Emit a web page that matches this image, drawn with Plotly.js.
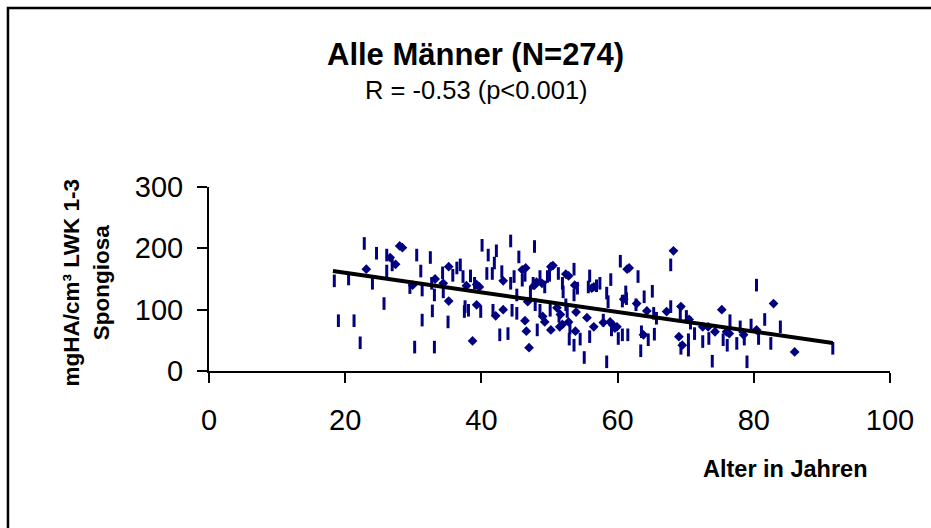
<!DOCTYPE html>
<html>
<head>
<meta charset="utf-8">
<script src="https://cdn.plot.ly/plotly-3.0.1.min.js"></script>
<style>
  html, body { margin: 0; padding: 0; background: #ffffff; }
  #chart { width: 931px; height: 528px; }
</style>
</head>
<body>
<div id="chart"></div>
<script>
// ---- Data ----
// Points drawn as vertical dash markers
const ageBar = [18.4,19.0,20.5,21.3,22.2,22.8,24.0,24.6,25.7,26.1,26.9,26.1,29.5,30.2,30.5,31.1,31.3,31.3,32.5,32.7,32.8,33.1,33.1,34.3,34.4,35.1,35.8,36.4,36.9,37.3,37.6,37.5,38.1,38.4,39.0,39.9,40.1,40.8,41.0,41.6,41.9,42.2,41.7,42.7,
  43.0,43.9,44.3,44.5,44.3,44.8,45.2,45.2,45.5,46.0,46.4,47.2,47.6,47.8,47.9,48.2,48.6,48.6,49.3,49.7,50.0,50.1,51.3,51.4,51.9,52.0,52.4,52.6,52.9,53.0,53.6,53.6,53.6,54.1,54.5,55.1,55.7,55.9,55.9,56.9,57.4,57.9,58.4,58.4,58.6,59.0,59.1,60.1,60.4,60.7,60.7,61.2,61.3,61.5,62.7,63.0,63.4,63.5,63.9,64.5,65.1,65.3,65.4,65.7,
  67.8,67.8,69.2,69.3,70.1,70.7,70.4,70.4,71.3,72.5,73.4,73.9,75.5,76.1,76.5,77.5,78.0,78.6,79.0,79.6,80.4,80.7,81.6,82.5,83.9,91.6];
const bmdBar = [147,82,150,82,46,208,143,192,110,189,173,163,136,39,189,163,132,83,185,143,98,39,124,160,129,80,156,168,173,154,105,97,99,155,143,97,205,159,189,159,176,196,99,59,
  162,61,212,99,143,154,124,94,186,148,156,129,143,203,108,67,154,99,137,154,156,99,159,89,143,129,108,97,52,70,166,124,42,135,52,22,137,155,56,139,143,83,15,127,113,149,67,53,179,114,59,129,118,59,108,154,33,64,121,51,130,94,60,86,
  173,105,91,37,89,78,51,34,61,48,53,16,51,42,82,45,72,52,15,75,140,53,84,45,72,37];
// Points drawn as diamonds
const ageDiamond = [23.1,26.6,27.4,28.0,28.4,29.9,33.2,34.4,35.2,35.2,37.8,38.7,39.3,39.7,39.3,42.1,
  43.2,43.2,46.0,46.5,46.4,46.6,47.0,46.8,47.8,48.1,48.9,49.0,49.3,50.2,50.5,50.2,51.1,51.6,51.9,51.5,52.4,52.8,52.8,53.7,53.9,53.8,55.5,56.2,56.5,56.5,57.9,58.9,59.3,59.6,59.9,61.4,61.7,60.9,62.8,63.8,64.3,67.2,
  68.2,69.3,69.0,69.5,70.5,72.5,73.3,74.3,75.3,76.0,76.4,78.5,80.4,82.9,86.0];
const bmdDiamond = [166,185,174,204,201,140,150,143,170,114,139,49,141,137,108,90,
  147,100,165,168,82,65,38,113,140,145,143,89,80,170,172,67,103,92,76,72,158,155,80,140,96,65,87,135,137,72,79,80,75,70,72,166,168,117,110,59,98,97,
  196,105,56,42,84,72,72,64,100,64,61,59,67,110,31];
// Linear regression line (end points)
const trendAge = [18.2, 91.6];
const trendBmd = [163, 45.7];

// Text
const titleText = "Alle Männer (N=274)";
const subtitleText = "R = -0.53 (p&lt;0.001)";
const xTitle = "Alter in Jahren";
const yTitle1 = "mgHA/cm³ LWK 1-3";
const yTitle2 = "Spongiosa";
const xTicks = [0, 20, 40, 60, 80, 100];
const yTicks = [0, 100, 200, 300];

const FONT = "Liberation Sans, Arial, Helvetica, sans-serif";
const NAVY = "#000080";

const traces = [
  {
    type: "scatter", mode: "markers", x: ageBar, y: bmdBar,
    marker: { symbol: "line-ns", size: 9, color: NAVY, line: { width: 3, color: NAVY } },
    hoverinfo: "x+y", showlegend: false
  },
  {
    type: "scatter", mode: "markers", x: ageDiamond, y: bmdDiamond,
    marker: { symbol: "diamond", size: 7.5, color: NAVY, line: { width: 0 } },
    hoverinfo: "x+y", showlegend: false
  },
  {
    type: "scatter", mode: "lines", x: trendAge, y: trendBmd,
    line: { color: "#000000", width: 4 },
    hoverinfo: "skip", showlegend: false
  }
];

const layout = {
  width: 931, height: 528,
  margin: { l: 209, r: 41, t: 187, b: 157, pad: 0 },
  paper_bgcolor: "#ffffff", plot_bgcolor: "#ffffff",
  font: { family: FONT, color: "#000000" },
  showlegend: false,
  xaxis: {
    range: [0, 100], tickmode: "array", tickvals: xTicks, ticktext: xTicks.map(String),
    showgrid: false, zeroline: false, showline: true, linecolor: "#000", linewidth: 2,
    ticks: "outside", ticklen: 10, tickwidth: 2, tickcolor: "#000",
    tickfont: { family: FONT, size: 29, color: "#000" }, ticklabelstandoff: 12,
    fixedrange: true
  },
  yaxis: {
    range: [0, 300], tickmode: "array", tickvals: yTicks, ticktext: yTicks.map(String),
    showgrid: false, zeroline: false, showline: true, linecolor: "#000", linewidth: 2,
    ticks: "outside", ticklen: 10, tickwidth: 2, tickcolor: "#000",
    tickfont: { family: FONT, size: 29, color: "#000" }, ticklabelstandoff: 8,
    fixedrange: true
  },
  shapes: [
    { type: "rect", xref: "paper", yref: "paper", x0: -0.2952, x1: 2, y0: -2, y1: 1.9728,
      line: { color: "#000", width: 2.5 }, fillcolor: "rgba(0,0,0,0)" }
  ],
  annotations: [
    { xref: "paper", yref: "paper", x: 0.3913, y: 1.7228, xanchor: "center", yanchor: "middle",
      text: "<b>" + titleText + "</b>", showarrow: false, font: { family: FONT, size: 31, color: "#000" } },
    { xref: "paper", yref: "paper", x: 0.3921, y: 1.5272, xanchor: "center", yanchor: "middle",
      text: subtitleText, showarrow: false, font: { family: FONT, size: 25.5, color: "#000" } },
    { xref: "paper", yref: "paper", x: 0.8466, y: -0.531, xanchor: "center", yanchor: "middle",
      text: "<b>" + xTitle + "</b>", showarrow: false, font: { family: FONT, size: 23.5, color: "#000" } },
    { xref: "paper", yref: "paper", x: -0.1800, y: 0.4837, xanchor: "center", yanchor: "middle",
      textangle: -90, text: "<b>" + yTitle1 + "</b><br><b>" + yTitle2 + "</b>", showarrow: false,
      font: { family: FONT, size: 22.5, color: "#000" } }
  ]
};

Plotly.newPlot("chart", traces, layout, { staticPlot: true, displayModeBar: false });
</script>
</body>
</html>
